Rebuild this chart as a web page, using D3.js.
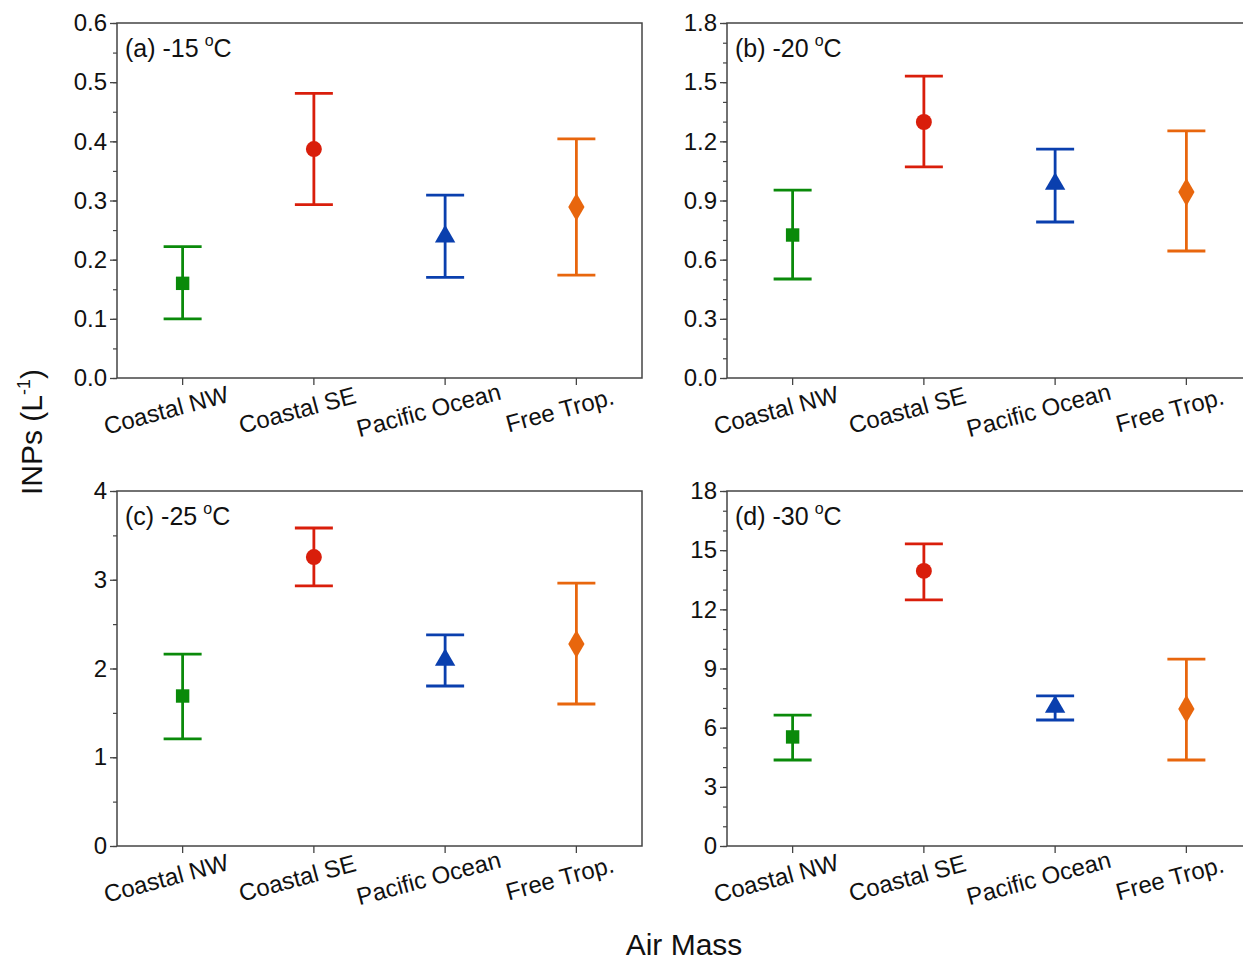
<!DOCTYPE html>
<html>
<head>
<meta charset="utf-8">
<script src="https://cdn.jsdelivr.net/npm/d3@7/dist/d3.min.js"></script>
<style>
  body { margin: 0; background: #fff; }
  text { font-family: "Liberation Sans", Arial, sans-serif; fill: #111; }
</style>
</head>
<body>
<svg id="chart" width="1243" height="960"></svg>
<script>
// air mass categories and colours
var categories = ["Coastal NW", "Coastal SE", "Pacific Ocean", "Free Trop."];
var colors = ["#0a8a0a", "#d91e0b", "#0a3fae", "#e8660d"];
var symbols = [d3.symbolSquare, d3.symbolCircle, d3.symbolTriangle, d3.symbolDiamond];
var symbolSizes = [180, 200, 180, 230];

// (a) -15 C
var meanA = [0.160, 0.387, 0.239, 0.289];
var lowA  = [0.100, 0.293, 0.170, 0.174];
var highA = [0.222, 0.481, 0.309, 0.404];
// (b) -20 C
var meanB = [0.725, 1.298, 0.984, 0.943];
var lowB  = [0.502, 1.070, 0.791, 0.644];
var highB = [0.953, 1.531, 1.161, 1.253];
// (c) -25 C
var meanC = [1.69, 3.256, 2.096, 2.276];
var lowC  = [1.206, 2.93, 1.803, 1.60];
var highC = [2.163, 3.583, 2.378, 2.963];
// (d) -30 C
var meanD = [5.53, 13.95, 7.05, 6.95];
var lowD  = [4.36, 12.48, 6.39, 4.36];
var highD = [6.64, 15.32, 7.61, 9.48];

// y axis ranges / ticks per panel
var yMax = [0.6, 1.8, 4, 18];
var yMajor = [0.1, 0.3, 1, 3];
var yMinor = [0.05, 0.1, 0.5, 1];
var yFormat = [".1f", ".1f", "d", "d"];
var panelTags = ["(a) -15", "(b) -20", "(c) -25", "(d) -30"];

var panels = [
	{mean: meanA, low: lowA, high: highA},
	{mean: meanB, low: lowB, high: highB},
	{mean: meanC, low: lowC, high: highC},
	{mean: meanD, low: lowD, high: highD}
];

var svg = d3.select("#chart");
var pw = 525, ph = 355;
var origins = [[117, 23], [727, 23], [117, 491], [727, 491]];

panels.forEach(function (p, i) {
	var g = svg.append("g").attr("transform", "translate(" + origins[i][0] + "," + origins[i][1] + ")");

	var x = d3.scaleBand().domain(categories).range([0, pw]);
	var y = d3.scaleLinear().domain([0, yMax[i]]).range([ph, 0]);

	// minor ticks on the y axis
	var minorVals = d3.range(0, yMax[i] + 1e-9, yMinor[i]);
	g.append("g")
		.call(d3.axisLeft(y).tickValues(minorVals).tickSize(4).tickFormat(""))
		.call(function (a) { a.select(".domain").remove(); a.selectAll("line").attr("stroke", "#444").attr("stroke-width", 1.2); });

	// major y axis
	var majorVals = d3.range(0, yMax[i] + 1e-9, yMajor[i]);
	g.append("g")
		.call(d3.axisLeft(y).tickValues(majorVals).tickSize(7).tickPadding(3).tickFormat(d3.format(yFormat[i])))
		.call(function (a) {
			a.select(".domain").remove();
			a.selectAll("line").attr("stroke", "#444").attr("stroke-width", 1.3);
			a.selectAll("text").attr("font-size", 24).attr("font-family", "Liberation Sans, Arial, sans-serif").attr("fill", "#111");
		});

	// x axis ticks + rotated labels
	var xa = g.append("g").attr("transform", "translate(0," + ph + ")")
		.call(d3.axisBottom(x).tickSize(7).tickFormat(""));
	xa.select(".domain").remove();
	xa.selectAll("line").attr("stroke", "#444").attr("stroke-width", 1.3);

	g.selectAll(".catlabel").data(categories).enter().append("text")
		.attr("class", "catlabel")
		.attr("transform", function (d) {
			return "translate(" + (x(d) + x.bandwidth() / 2 - 16) + "," + (ph + 34) + ") rotate(-15)";
		})
		.attr("text-anchor", "middle")
		.attr("dominant-baseline", "middle")
		.attr("font-size", 24)
		.text(function (d) { return d; });

	// frame
	g.append("rect").attr("width", pw).attr("height", ph)
		.attr("fill", "none").attr("stroke", "#444").attr("stroke-width", 1.5);

	// panel tag
	var tag = g.append("text").attr("x", 8).attr("y", 34).attr("font-size", 25);
	tag.append("tspan").text(panelTags[i]);
	tag.append("tspan").attr("font-size", 16).attr("dx", 6).attr("dy", -11).text("o");
	tag.append("tspan").attr("font-size", 25).attr("dy", 11).text("C");

	// error bars
	var idx = d3.range(categories.length);
	var cx = function (k) { return x(categories[k]) + x.bandwidth() / 2; };
	var capW = 19;

	var bars = g.selectAll(".err").data(idx).enter().append("g").attr("class", "err")
		.attr("stroke", function (k) { return colors[k]; })
		.attr("stroke-width", 2.8)
		.attr("fill", "none");
	bars.append("line")
		.attr("x1", cx).attr("x2", cx)
		.attr("y1", function (k) { return y(p.low[k]); })
		.attr("y2", function (k) { return y(p.high[k]); });
	bars.append("line")
		.attr("x1", function (k) { return cx(k) - capW; }).attr("x2", function (k) { return cx(k) + capW; })
		.attr("y1", function (k) { return y(p.high[k]); }).attr("y2", function (k) { return y(p.high[k]); });
	bars.append("line")
		.attr("x1", function (k) { return cx(k) - capW; }).attr("x2", function (k) { return cx(k) + capW; })
		.attr("y1", function (k) { return y(p.low[k]); }).attr("y2", function (k) { return y(p.low[k]); });

	// mean markers
	g.selectAll(".pt").data(idx).enter().append("path").attr("class", "pt")
		.attr("transform", function (k) { return "translate(" + cx(k) + "," + y(p.mean[k]) + ")"; })
		.attr("d", function (k) { return d3.symbol().type(symbols[k]).size(symbolSizes[k])(); })
		.attr("fill", function (k) { return colors[k]; });
});

// shared axis titles
var yt = svg.append("text")
	.attr("transform", "translate(42,432) rotate(-90)")
	.attr("text-anchor", "middle")
	.attr("font-size", 30);
yt.append("tspan").text("INPs (L");
yt.append("tspan").attr("font-size", 18).attr("dy", -12).text("-1");
yt.append("tspan").attr("dy", 12).text(")");

svg.append("text")
	.attr("x", 684).attr("y", 955)
	.attr("text-anchor", "middle")
	.attr("font-size", 30)
	.text("Air Mass");
</script>
</body>
</html>
